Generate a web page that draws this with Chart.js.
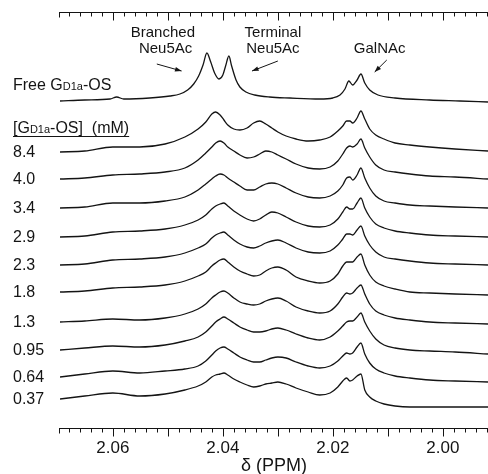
<!DOCTYPE html>
<html>
<head>
<meta charset="utf-8">
<title>Gd1a-OS NMR titration</title>
<script src="https://cdn.jsdelivr.net/npm/chart.js@4.4.1/dist/chart.umd.min.js"></script>
<style>
  html, body { margin: 0; padding: 0; background: #fff; }
  #wrap { width: 488px; height: 474px; }
</style>
</head>
<body>
<div id="wrap"><canvas id="nmrChart" width="488" height="474"></canvas></div>
<script>
/* N-acetyl methyl region, stacked 1D spectra */

// chemical shift grid (ppm) for the titration spectra
const ppmBound = [2.0696, 2.0651, 2.0600, 2.0551, 2.0505, 2.0469, 2.0445, 2.0431, 2.0420, 2.0413,
  2.0405, 2.0398, 2.0391, 2.0380, 2.0369, 2.0356, 2.0344, 2.0333, 2.0322, 2.0311,
  2.0300, 2.0285, 2.0267, 2.0245, 2.0224, 2.0205, 2.0191, 2.0182, 2.0175, 2.0169,
  2.0164, 2.0156, 2.0149, 2.0142, 2.0133, 2.0122, 2.0107, 2.0087, 2.0060, 2.0024,
  1.9978, 1.9918];

// free oligosaccharide has its own (sharper) sampling
const ppmFree = [2.0696, 2.0651, 2.0605, 2.0593, 2.0580, 2.0533, 2.0496, 2.0478, 2.0464, 2.0453,
  2.0444, 2.0436, 2.0429, 2.0422, 2.0415, 2.0407, 2.0400, 2.0395, 2.0389, 2.0384,
  2.0376, 2.0369, 2.0358, 2.0342, 2.0315, 2.0278, 2.0224, 2.0200, 2.0187, 2.0178,
  2.0171, 2.0164, 2.0156, 2.0149, 2.0142, 2.0133, 2.0118, 2.0087, 2.0024, 1.9969,
  1.9918];
const specFree = [-1, 0, 1, 3, 1, 2, 4, 6, 10, 16, 24, 35, 47, 38, 27, 21, 25, 34, 44, 34,
  20, 13, 8, 5, 3, 2, 1, 2, 5, 11, 19, 15, 20, 26, 17, 10, 5, 2, 0, -1, -2];

// intensities (arbitrary units) at each [Gd1a-OS]
const spec84 = [0, 1, 5, 5, 8, 15, 23, 30, 38, 40, 37, 32, 27, 23, 22, 24, 29, 31, 28, 24,
  20, 16, 13, 11, 12, 15, 21, 26, 31, 31, 29, 34, 41, 33, 23, 17, 13, 9, 7, 5, 3, 1];
const spec40 = [0, 1, 4, 5, 7, 11, 19, 26, 32, 36, 38, 36, 32, 28, 24, 21, 22, 25, 28, 27,
  24, 20, 15, 11, 10, 12, 18, 25, 31, 33, 32, 35, 40, 31, 22, 14, 9, 7, 5, 3, 2, 0];
const spec34 = [0, 1, 5, 5, 7, 11, 18, 24, 29, 32, 34, 33, 30, 26, 22, 18, 18, 21, 24, 25,
  24, 20, 15, 11, 10, 12, 17, 23, 30, 31, 28, 33, 40, 30, 20, 12, 7, 5, 3, 2, 1, 0];
const spec29 = [0, 1, 5, 6, 8, 12, 17, 22, 28, 31, 33, 34, 31, 26, 22, 18, 16, 18, 22, 25,
  24, 20, 15, 11, 10, 12, 18, 25, 30, 28, 28, 34, 39, 29, 20, 13, 9, 6, 4, 2, 1, 0];
const spec23 = [0, 1, 5, 6, 8, 12, 17, 21, 27, 30, 32, 33, 30, 25, 21, 18, 17, 19, 22, 24,
  25, 22, 17, 13, 12, 14, 20, 26, 31, 31, 30, 35, 39, 29, 20, 13, 8, 6, 4, 2, 1, 0];
const spec18 = [0, 1, 4, 5, 7, 11, 16, 20, 26, 29, 32, 33, 30, 25, 21, 18, 16, 17, 21, 24,
  25, 22, 15, 11, 9, 11, 18, 26, 30, 30, 30, 35, 38, 27, 17, 10, 6, 3, 0, -1, -2, -3];
const spec13 = [0, 1, 3, 2, 4, 8, 13, 18, 24, 27, 30, 31, 29, 24, 20, 18, 17, 18, 21, 23,
  24, 21, 15, 11, 9, 11, 18, 25, 29, 28, 29, 34, 37, 28, 18, 11, 7, 4, 2, 0, -1, -2];
const spec095 = [0, 2, 4, 3, 5, 9, 13, 18, 24, 28, 31, 33, 31, 27, 23, 20, 18, 18, 19, 21,
  22, 20, 16, 12, 10, 13, 19, 24, 28, 29, 29, 33, 37, 28, 19, 11, 5, 2, 0, -1, -2, -4];
const spec064 = [0, 3, 6, 4, 6, 8, 11, 16, 22, 26, 29, 30, 28, 24, 20, 17, 15, 15, 17, 19,
  20, 19, 15, 11, 9, 11, 16, 21, 24, 23, 24, 30, 34, 23, 14, 8, 4, 1, -1, -3, -4, -5];
const spec037 = [0, 3, 6, 3, 5, 9, 13, 17, 22, 24, 25, 26, 24, 20, 17, 14, 12, 13, 15, 16,
  17, 15, 11, 7, 4, 6, 12, 18, 21, 18, 19, 23, 25, 9, 2, -2, -5, -7, -8, -8, -8, -8];

const concLabels = ['8.4', '4.0', '3.4', '2.9', '2.3', '1.8', '1.3', '0.95', '0.64', '0.37'];
const concSpectra = [spec84, spec40, spec34, spec29, spec23, spec18, spec13, spec095, spec064, spec037];

// vertical stacking of the spectra (free first, then by concentration)
const freeOffset = 328;
const concOffsets = [276, 249, 220, 191, 163, 136, 106, 78, 51, 29];

const axisLabels = [2.06, 2.04, 2.02, 2.00];
const ppmMin = 1.9918;
const ppmMax = 2.0696;

const FONT = "'Liberation Sans', Arial, Helvetica, sans-serif";
const INK = '#141414';

function toPoints(xs, ys, offset) {
  return ys.map((v, i) => ({ x: xs[i], y: v + offset }));
}

const lineStyle = {
  borderColor: INK,
  borderWidth: 1.3,
  pointRadius: 0,
  fill: false,
  cubicInterpolationMode: 'monotone'
};

const datasets = [
  Object.assign({ label: 'Free', data: toPoints(ppmFree, specFree, freeOffset) }, lineStyle)
].concat(concSpectra.map((s, i) =>
  Object.assign({ label: concLabels[i], data: toPoints(ppmBound, s, concOffsets[i]) }, lineStyle)
));

// minor ticks every 0.002 ppm, major every 0.01
const tickMarks = [];
for (let i = 996; i <= 1034; i++) {
  tickMarks.push({ value: i * 0.002, major: i % 5 === 0 });
}

function arrow(ctx, x1, y1, x2, y2) {
  const ang = Math.atan2(y2 - y1, x2 - x1);
  ctx.beginPath();
  ctx.moveTo(x1, y1);
  ctx.lineTo(x2, y2);
  ctx.stroke();
  ctx.beginPath();
  ctx.moveTo(x2, y2);
  ctx.lineTo(x2 - 7 * Math.cos(ang - 0.35), y2 - 7 * Math.sin(ang - 0.35));
  ctx.lineTo(x2 - 7 * Math.cos(ang + 0.35), y2 - 7 * Math.sin(ang + 0.35));
  ctx.closePath();
  ctx.fill();
}

// draws "G" + small "D1a" the way the ganglioside name is set
function drawGanglioside(ctx, parts, x, y) {
  parts.forEach(([txt, size]) => {
    ctx.font = size + 'px ' + FONT;
    ctx.fillText(txt, x, y);
    x += ctx.measureText(txt).width;
  });
  return x;
}

const decorPlugin = {
  id: 'decor',
  afterDraw(chart) {
    const { ctx, chartArea: a, scales: { x, y } } = chart;
    ctx.save();
    ctx.strokeStyle = INK;
    ctx.fillStyle = INK;
    ctx.lineWidth = 1;

    // frame lines top and bottom, ticks hang downward on both
    [a.top, a.bottom].forEach(yy => {
      const yl = Math.round(yy) + 0.5;
      ctx.beginPath();
      ctx.moveTo(a.left - 1, yl);
      ctx.lineTo(a.right, yl);
      ctx.moveTo(a.left - 0.5, yl);
      ctx.lineTo(a.left - 0.5, yl + 5);
      tickMarks.forEach(t => {
        const px = Math.round(x.getPixelForValue(t.value)) + 0.5;
        if (px < a.left || px > a.right) return;
        ctx.moveTo(px, yl);
        ctx.lineTo(px, yl + (t.major ? 8 : 4));
      });
      ctx.stroke();
    });

    // left-hand labels
    ctx.textBaseline = 'alphabetic';
    ctx.textAlign = 'left';
    drawGanglioside(ctx, [['Free G', 16], ['D1a', 11], ['-OS', 16]], 13, 90);
    const endX = drawGanglioside(ctx, [['[G', 16], ['D1a', 11], ['-OS]  (mM)', 16]], 13, 133);
    ctx.beginPath();
    ctx.moveTo(13, 136.5);
    ctx.lineTo(endX, 136.5);
    ctx.stroke();

    ctx.font = '16px ' + FONT;
    ctx.textBaseline = 'middle';
    concLabels.forEach((lab, i) => {
      ctx.fillText(lab, 13, y.getPixelForValue(concOffsets[i]) + 1);
    });

    // peak annotations
    ctx.font = '15px ' + FONT;
    ctx.textAlign = 'center';
    const note = (txt, ppm, val) => ctx.fillText(txt, x.getPixelForValue(ppm), y.getPixelForValue(val));
    note('Branched', 2.0509, 395);
    note('Neu5Ac', 2.0504, 379);
    note('Terminal', 2.0309, 395);
    note('Neu5Ac', 2.0309, 379);
    note('GalNAc', 2.0115, 379);

    const px = v => x.getPixelForValue(v);
    const py = v => y.getPixelForValue(v);
    arrow(ctx, px(2.0520), py(364), px(2.0475), py(357));
    arrow(ctx, px(2.0300), py(367), px(2.0347), py(357));
    arrow(ctx, px(2.0102), py(368), px(2.0124), py(356));
    ctx.restore();
  }
};

new Chart(document.getElementById('nmrChart'), {
  type: 'line',
  data: { datasets },
  options: {
    responsive: false,
    animation: false,
    devicePixelRatio: 1,
    layout: { padding: { left: 60, right: 0, top: 12, bottom: 0 } },
    plugins: { legend: { display: false }, tooltip: { enabled: false } },
    scales: {
      x: {
        type: 'linear',
        reverse: true,
        min: ppmMin,
        max: ppmMax,
        grid: { display: false, drawTicks: false },
        border: { display: false },
        afterBuildTicks: s => { s.ticks = axisLabels.map(v => ({ value: v })); },
        afterFit: s => { s.height = 46; },
        ticks: {
          padding: 10,
          color: INK,
          autoSkip: false,
          maxRotation: 0,
          font: { family: FONT, size: 17 },
          callback: v => v.toFixed(2)
        },
        title: {
          display: true,
          text: 'δ (PPM)',
          color: INK,
          font: { family: FONT, size: 18, lineHeight: 1 },
          padding: { top: 0, bottom: -1 }
        }
      },
      y: { display: false, min: 0, max: 416 }
    }
  },
  plugins: [decorPlugin]
});
</script>
</body>
</html>
